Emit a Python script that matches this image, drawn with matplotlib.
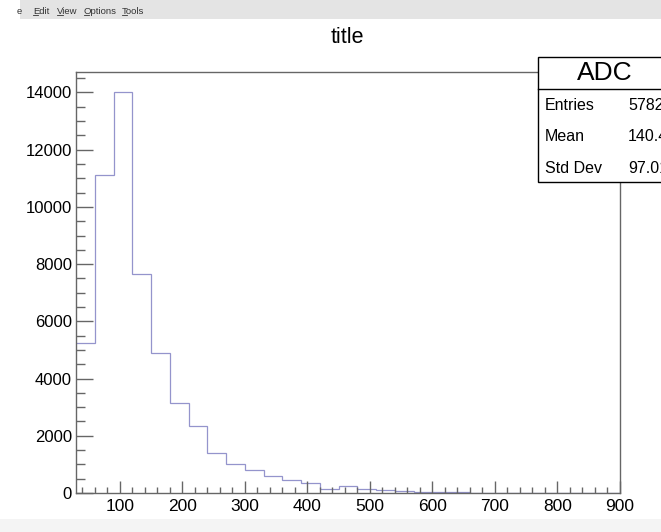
import numpy as np
import matplotlib
matplotlib.use('Agg')
import matplotlib.pyplot as plt
from matplotlib.patches import Rectangle
from matplotlib.ticker import MultipleLocator

plt.rcParams['font.family'] = ['Liberation Sans', 'DejaVu Sans']

# ADC histogram, 29 bins of width 30 from 30 to 900
bin_low = 30
bin_width = 30
counts = [5240, 11130, 14025, 7650, 4911, 3161, 2357, 1411, 1027, 793,
          595, 443, 350, 150, 232, 152, 120, 72, 50, 35,
          25, 15, 10, 6, 4, 2, 1, 1, 0]
edges = bin_low + bin_width * np.arange(len(counts) + 1)

stat_names = ['Entries', 'Mean', 'Std Dev']
stat_values = ['57827', '140.4', '97.01']
menu_items = [('e', 17), ('Edit', 33), ('View', 57), ('Options', 84), ('Tools', 122)]

W, H = 661, 532
fig = plt.figure(figsize=(W / 100, H / 100), dpi=100)

# window decoration: menu bar and bottom status strip
fig.patches.append(Rectangle((20 / W, 1 - 19 / H), 1, 19 / H, transform=fig.transFigure,
                             facecolor='#e4e4e4', edgecolor='none', zorder=0))
fig.patches.append(Rectangle((0, 0), 1, 13 / H, transform=fig.transFigure,
                             facecolor='#f4f4f4', edgecolor='none', zorder=0))
for i, (name, px) in enumerate(menu_items):
    t = fig.text(px / W, 1 - 11 / H, name, fontsize=6.8, color='#333333', va='center', ha='left')
    if i > 0:
        # underline the accelerator letter
        fig.canvas.draw()
        bb = t.get_window_extent()
        cw = bb.width / len(name) * 1.1
        fig.add_artist(plt.Line2D([bb.x0 / W, (bb.x0 + cw) / W], [(bb.y0 + 0.5) / H] * 2,
                                  color='#333333', linewidth=0.6, transform=fig.transFigure))

left, right, top, bottom = 76, 620, 71.7, 493
ax = fig.add_axes([left / W, 1 - bottom / H, (right - left) / W, (bottom - top) / H])

ax.stairs(counts, edges, baseline=None, color='#9494cc', linewidth=0.9)

ax.set_xlim(30, 900)
ax.set_ylim(0, 1.05 * max(counts))
ax.xaxis.set_major_locator(MultipleLocator(100))
ax.xaxis.set_minor_locator(MultipleLocator(20))
ax.yaxis.set_major_locator(MultipleLocator(2000))
ax.yaxis.set_minor_locator(MultipleLocator(500))

ax.tick_params(axis='x', which='major', direction='in', length=8.6, width=1, color='#666666',
               labelsize=12.5, pad=4.5)
ax.tick_params(axis='x', which='minor', direction='in', length=4.3, width=1, color='#666666')
ax.tick_params(axis='y', which='major', direction='in', length=12, width=1, color='#666666',
               labelsize=12, pad=3)
ax.tick_params(axis='y', which='minor', direction='in', length=6.2, width=1, color='#666666')
for s in ax.spines.values():
    s.set_color('#666666')
    s.set_linewidth(1)

fig.text(347 / W, 1 - 37.3 / H, 'title', fontsize=15.5, ha='center', va='center')

# stats box, runs past the right edge of the canvas
bx0, by0, by1, hdr = 538.3, 56.7, 182.3, 89
fig.patches.append(Rectangle((bx0 / W, 1 - by1 / H), (W + 20 - bx0) / W, (by1 - by0) / H,
                             transform=fig.transFigure, facecolor='white', edgecolor='black',
                             linewidth=1, zorder=5))
fig.add_artist(plt.Line2D([bx0 / W, 1.05], [1 - hdr / H, 1 - hdr / H], color='black',
                          linewidth=1, transform=fig.transFigure, zorder=6))
fig.text(605 / W, 1 - 73.3 / H, 'ADC', fontsize=19, ha='center', va='center', zorder=7)
row_y = [105, 136.7, 168.3]
for name, val, y in zip(stat_names, stat_values, row_y):
    fig.text(545 / W, 1 - y / H, name, fontsize=11.5, ha='left', va='center', zorder=7)
    fig.text(628 / W, 1 - y / H, val, fontsize=11.5, ha='left', va='center', zorder=7)

fig.savefig('out.png', dpi=100)
